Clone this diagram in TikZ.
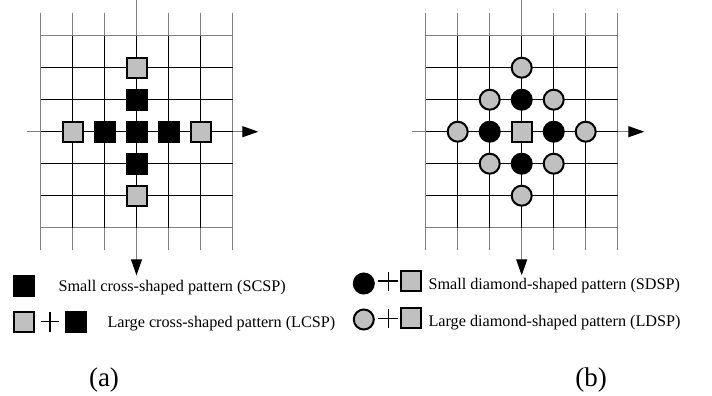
\documentclass[tikz,border=0pt]{standalone}
\usepackage{fontspec}
\setmainfont{Liberation Serif}
\usetikzlibrary{arrows.meta}
\definecolor{patgray}{HTML}{C0C0C0}
\definecolor{linegray}{HTML}{808080}
\begin{document}
\begin{tikzpicture}[x=1pt,y=-1pt,
 gline/.style={draw=linegray, line width=1pt},
 bline/.style={draw=black, line width=1.5pt},
 bsq/.style={rectangle, draw=none, fill=black, minimum size=22pt, inner sep=0pt},
 gsq/.style={rectangle, draw=black, fill=patgray, line width=2pt, minimum size=20pt, inner sep=0pt},
 bcirc/.style={circle, draw=black, fill=black, line width=2pt, minimum size=20pt, inner sep=0pt},
 gcirc/.style={circle, draw=black, fill=patgray, line width=2pt, minimum size=20pt, inner sep=0pt},
 axisline/.style={draw=linegray, line width=1pt, -{Triangle[length=16pt,width=11pt,black]}},
 lbl/.style={anchor=base west, font=\fontsize{16.2}{18}\selectfont, inner sep=0pt},
 captxt/.style={anchor=base, font=\fontsize{27}{30}\selectfont, inner sep=0pt},
 plusline/.style={draw=black, line width=1.2pt}
]
\useasboundingbox (0,0) rectangle (712,396);

% grids (thin gray full lines)
\foreach \ox in {40.5, 425.7} {
  \foreach \i in {0,...,6} {
    \draw[gline] (\ox+32*\i, 13) -- (\ox+32*\i, 250);
    \draw[gline] (\ox, 35.7+32*\i) -- (\ox+192, 35.7+32*\i);
  }
}

% axes
\coordinate (aL) at (26.7,131.7);
\coordinate (aR) at (258.3,131.7);
\coordinate (aU) at (136.5,0);
\coordinate (aD) at (136.5,275.3);
\draw[axisline] (aL) -- (aR);
\draw[axisline] (aU) -- (aD);
\coordinate (bL) at (412.3,131.7);
\coordinate (bR) at (644.3,131.7);
\coordinate (bU) at (521.7,0);
\coordinate (bD) at (521.7,275.3);
\draw[axisline] (bL) -- (bR);
\draw[axisline] (bU) -- (bD);

% inner black grid lines
\foreach \ox in {40.5, 425.7} {
  \foreach \i in {1,...,5} {
    \draw[bline] (\ox+32*\i, 35.7) -- (\ox+32*\i, 227.7);
    \draw[bline] (\ox, 35.7+32*\i) -- (\ox+192, 35.7+32*\i);
  }
}

% (a) cross-shaped patterns
\node[gsq] (aT) at (136.5,67.7) {};
\node[gsq] (aB) at (136.5,195.7) {};
\node[gsq] (aLf) at (72.5,131.7) {};
\node[gsq] (aRt) at (200.5,131.7) {};
\node[bsq] (aC) at (136.5,131.7) {};
\node[bsq] (aN) at (136.5,99.7) {};
\node[bsq] (aS) at (136.5,163.7) {};
\node[bsq] (aW) at (104.5,131.7) {};
\node[bsq] (aE) at (168.5,131.7) {};

% (b) diamond-shaped patterns
\node[gsq] (bC) at (521.7,131.7) {};
\node[bcirc] (bN) at (521.7,99.7) {};
\node[bcirc] (bS) at (521.7,163.7) {};
\node[bcirc] (bW) at (489.7,131.7) {};
\node[bcirc] (bE) at (553.7,131.7) {};
\node[gcirc] (bNN) at (521.7,67.7) {};
\node[gcirc] (bSS) at (521.7,195.7) {};
\node[gcirc] (bWW) at (457.7,131.7) {};
\node[gcirc] (bEE) at (585.7,131.7) {};
\node[gcirc] (bNW) at (489.7,99.7) {};
\node[gcirc] (bNE) at (553.7,99.7) {};
\node[gcirc] (bSW) at (489.7,163.7) {};
\node[gcirc] (bSE) at (553.7,163.7) {};

% legend (a)
\node[bsq] (la1) at (23.7,285.8) {};
\node[lbl] (ta1) at (58.3,291) {Small cross-shaped pattern (SCSP)};
\node[gsq] (la2g) at (23.7,321.7) {};
\draw[plusline] (40.7,321.7) -- (59.3,321.7) (50,311.7) -- (50,331.7);
\node[bsq] (la2b) at (75.8,321.7) {};
\node[lbl] (ta2) at (107.3,327) {Large cross-shaped pattern (LCSP)};

% legend (b)
\node[bcirc] (lb1c) at (363.8,283.5) {};
\draw[plusline] (378.3,281) -- (398.3,281) (388.3,271.5) -- (388.3,290.5);
\node[gsq] (lb1s) at (410.8,281) {};
\node[lbl] (tb1) at (428.3,289) {Small diamond-shaped pattern (SDSP)};
\node[gcirc] (lb2c) at (363.8,319.5) {};
\draw[plusline] (378.3,318.5) -- (398.3,318.5) (388.3,309) -- (388.3,328);
\node[gsq] (lb2s) at (410.8,318.3) {};
\node[lbl] (tb2) at (428.3,326) {Large diamond-shaped pattern (LDSP)};

% captions
\node[captxt] (capa) at (104,386) {(a)};
\node[captxt] (capb) at (591,386) {(b)};
\end{tikzpicture}
\end{document}
